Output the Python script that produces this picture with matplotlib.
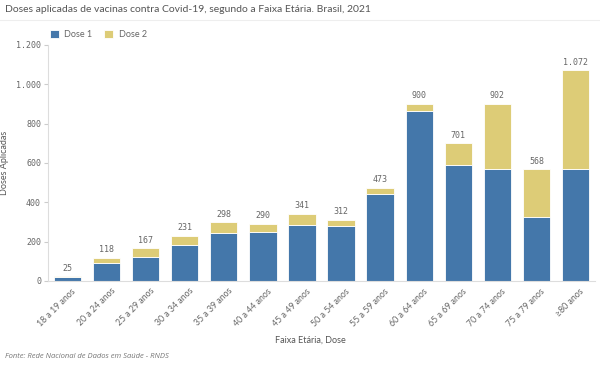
import matplotlib
matplotlib.use('Agg')
import matplotlib.pyplot as plt
import numpy as np

faixas = ['18 a 19 anos', '20 a 24 anos', '25 a 29 anos', '30 a 34 anos',
          '35 a 39 anos', '40 a 44 anos', '45 a 49 anos', '50 a 54 anos',
          '55 a 59 anos', '60 a 64 anos', '65 a 69 anos', '70 a 74 anos',
          '75 a 79 anos', '≥80 anos']
total = [25, 118, 167, 231, 298, 290, 341, 312, 473, 900, 701, 902, 568, 1072]
dose1 = [22, 90, 124, 182, 246, 248, 287, 278, 443, 866, 589, 569, 324, 572]
dose2 = [t - d for t, d in zip(total, dose1)]

azul = '#4477aa'
amarelo = '#ddcc77'
cinza = '#666666'
mono = 'DejaVu Sans Mono'

fig = plt.figure(figsize=(6, 3.67), dpi=100)
ax = fig.add_axes([48/600, 1 - 281/367, 547/600, 236/367])

x = np.arange(len(faixas))
ax.bar(x, dose1, width=0.7, color=azul, edgecolor='white', linewidth=0.6, label='Dose 1')
ax.bar(x, dose2, width=0.7, bottom=dose1, color=amarelo, edgecolor='white', linewidth=0.6, label='Dose 2')

for xi, t in zip(x, total):
    txt = f'{t:,}'.replace(',', '.')
    ax.text(xi, t + 18, txt, ha='center', va='bottom', fontsize=6, family=mono, color=cinza)

ax.set_xlim(-0.5, len(faixas) - 0.5)
ax.set_ylim(0, 1200)
yt = [0, 200, 400, 600, 800, 1000, 1200]
ax.set_yticks(yt)
ax.set_yticklabels([f'{v:,}'.replace(',', '.') for v in yt], family=mono, fontsize=6, color=cinza)
ax.set_xticks(x + 0.1)
ax.set_xticklabels(faixas, rotation=45, ha='right', rotation_mode='anchor',
                   family='Lato', fontsize=6.3, color=cinza)
ax.tick_params(axis='y', length=3, color='#cccccc', pad=2)
ax.tick_params(axis='x', length=0, pad=4)

for s in ['top', 'right']:
    ax.spines[s].set_visible(False)
ax.spines['left'].set_color('#dddddd')
ax.spines['bottom'].set_color('#dddddd')

ax.set_ylabel('Doses Aplicadas', fontsize=6.5, color='#555555', family='Lato')
ax.yaxis.set_label_coords(-39/547, 0.5)
fig.text(310/600, 1 - 340/367, 'Faixa Etária, Dose', ha='center', va='center',
         fontsize=6.5, color='#555555', family='Lato')

ax.legend(loc='lower left', bbox_to_anchor=(-0.008, 1.0), ncol=2, frameon=False,
          handlelength=1, handleheight=1, columnspacing=1.3, handletextpad=0.6,
          borderaxespad=0.3, prop={'family': 'Lato', 'size': 6.5}, labelcolor=cinza)

fig.text(5/600, 1 - 10/367, 'Doses aplicadas de vacinas contra Covid-19, segundo a Faixa Etária. Brasil, 2021',
         ha='left', va='center', fontsize=7.5, color='#555555', family='Lato')
fig.add_artist(plt.Line2D([0, 1], [1 - 20/367, 1 - 20/367], color='#eeeeee', linewidth=0.8))
fig.text(5/600, 1 - 357/367, 'Fonte: Rede Nacional de Dados em Saúde - RNDS',
         ha='left', va='center', fontsize=5.5, color='#777777', style='italic', family='Open Sans')

fig.savefig('out.png', dpi=100, facecolor='white')
